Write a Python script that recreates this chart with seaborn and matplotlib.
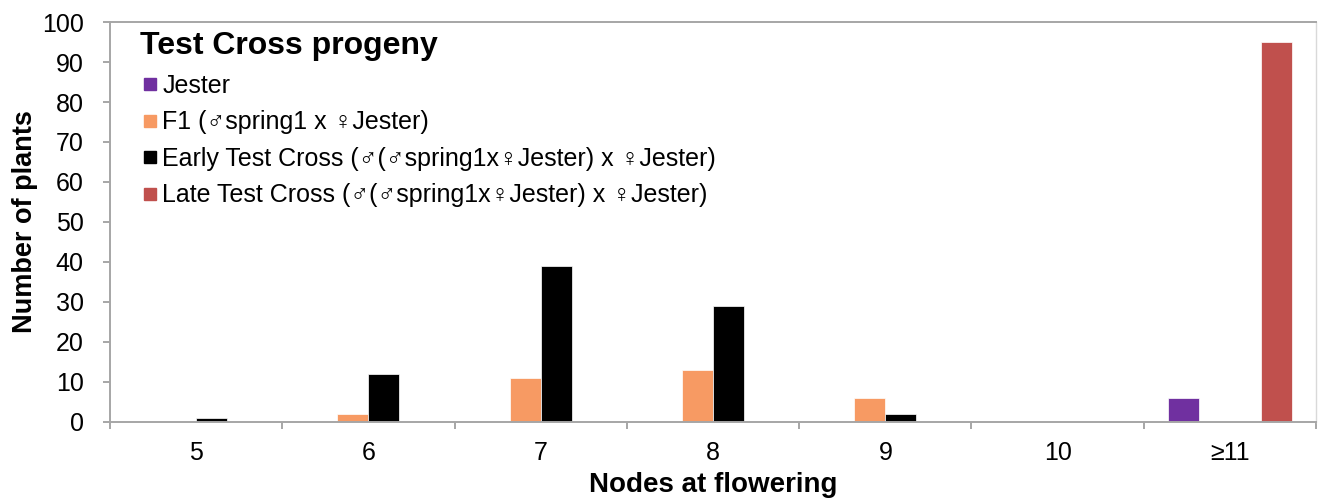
import numpy as np
import pandas as pd
import matplotlib
matplotlib.use("Agg")
import matplotlib.pyplot as plt
from matplotlib.lines import Line2D
import seaborn as sns

# Values
nodes = ["5", "6", "7", "8", "9", "10", "≥11"]
jester = [0, 0, 0, 0, 0, 0, 6]
f1 = [0, 2, 11, 13, 6, 0, 0]
early_tc = [1, 12, 39, 29, 2, 0, 0]
late_tc = [0, 0, 0, 0, 0, 0, 95]

series_names = [
    "Jester",
    "F1 (♂spring1 x ♀Jester)",
    "Early Test Cross (♂(♂spring1x♀Jester) x ♀Jester)",
    "Late Test Cross (♂(♂spring1x♀Jester) x ♀Jester)",
]
colors = ["#7030A0", "#F79A63", "#000000", "#C0504D"]

if __name__ == "__main__":
    sns.set_style("white")
    plt.rcParams["font.family"] = ["Liberation Sans", "DejaVu Sans"]
    plt.rcParams["text.color"] = "black"
    plt.rcParams["axes.labelcolor"] = "black"
    plt.rcParams["xtick.labelcolor"] = "black"
    plt.rcParams["ytick.labelcolor"] = "black"

    # long-form table for seaborn
    rows = []
    for name, vals in zip(series_names, [jester, f1, early_tc, late_tc]):
        for n, v in zip(nodes, vals):
            rows.append({"nodes": n, "count": v, "series": name})
    df = pd.DataFrame(rows)

    fig = plt.figure(figsize=(13.18, 5.01), dpi=100)
    ax = fig.add_axes([0.0835, 0.158, 0.915, 0.798])

    sns.barplot(
        data=df, x="nodes", y="count", hue="series",
        order=nodes, hue_order=series_names, palette=colors,
        saturation=1, width=0.72, edgecolor="white", linewidth=0.5,
        legend=False, ax=ax,
    )

    ax.set_ylim(0, 100)
    ax.set_xlim(-0.5, len(nodes) - 0.5)
    ax.set_yticks(np.arange(0, 101, 10))

    # spines in light gray like the Excel original
    for side in ["left", "bottom", "top"]:
        ax.spines[side].set_color("#A6A6A6")
        ax.spines[side].set_linewidth(1.4)
    ax.spines["right"].set_color("#D9D9D9")
    ax.spines["right"].set_linewidth(1.0)

    ax.tick_params(axis="y", direction="out", length=5, width=1.4,
                   color="#A6A6A6", labelsize=18, pad=14, left=True)
    ax.tick_params(axis="x", which="major", length=0, labelsize=18, pad=14)
    ax.set_xticks(np.arange(-0.5, len(nodes), 1.0), minor=True)
    ax.tick_params(axis="x", which="minor", direction="out", length=5,
                   width=1.4, color="#A6A6A6", bottom=True)

    ax.set_xlabel("Nodes at flowering", fontsize=20, fontweight="bold",
                  labelpad=5)
    ax.set_ylabel("Number of plants", fontsize=19.5, fontweight="bold",
                  labelpad=3)

    handles = [Line2D([], [], marker="s", linestyle="", markersize=9,
                      color=c) for c in colors]
    leg = ax.legend(
        handles, series_names, title="Test Cross progeny",
        loc="upper left", bbox_to_anchor=(0.006, 1.033),
        frameon=False, fontsize=18, handlelength=0.8, handletextpad=0.1,
        labelspacing=0.5, alignment="left",
    )
    leg.get_title().set_fontsize(23)
    leg.get_title().set_fontweight("bold")

    fig.savefig("out.png", dpi=100)
